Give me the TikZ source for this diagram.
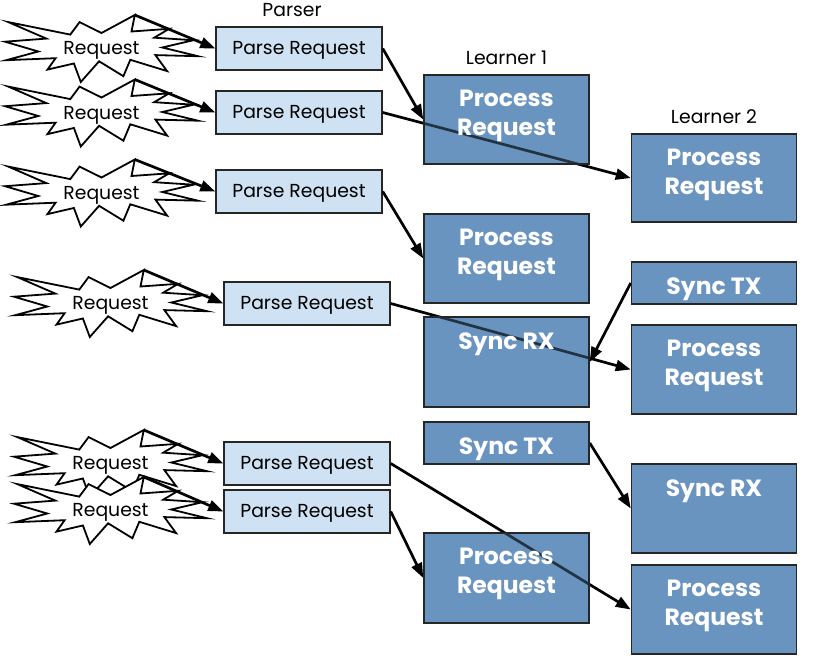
\documentclass[tikz,border=0pt]{standalone}
\usepackage{fontspec}
\setmainfont{Poppins}
\usetikzlibrary{arrows.meta}
\pgfdeclarelayer{background}
\pgfdeclarelayer{front}
\pgfsetlayers{background,main,front}
\definecolor{parsefill}{RGB}{207,226,243}
\definecolor{learnfill}{RGB}{106,148,192}

\tikzset{
  parsebox/.style={draw=black!85, line width=1.5pt, fill=parsefill, minimum width=166pt, minimum height=43pt, inner sep=0pt, text depth=1pt, font=\fontsize{18.8}{22}\selectfont},
  learnbox/.style={draw=black!85, line width=1.5pt, fill=learnfill, fill opacity=0.35, draw opacity=1, text opacity=1, minimum width=165pt, inner sep=0pt},
  boxtext/.style={anchor=north, yshift=-16pt, align=center, text=white, draw=none, fill=none, fill opacity=1, text opacity=1, inner sep=0pt, font=\fontsize{23.5}{29}\selectfont\bfseries},
  title/.style={font=\fontsize{18.8}{22}\selectfont, inner sep=0pt, text depth=0pt, label distance=10pt, fill=none, draw=none, fill opacity=1, text opacity=1},
  flow/.style={line width=2.7pt, -{Triangle[length=15pt,width=11pt]}},
  burst/.pic={
    \draw[line width=1.8pt, fill=white, line join=miter]
      (0,-15.5) -- (33.3,-33.5) -- (30.0,-17.0) -- (67.7,-19.7) -- (52.7,-10.8)
      -- (92.0,-8.3) -- (60.8,-1.0) -- (96.5,7.7) -- (53.9,6.6) -- (65.6,22.6)
      -- (28.8,11.3) -- (21.9,27.7) -- (-2.4,12.8) -- (-20.7,33.5) -- (-27.6,15.0)
      -- (-54.0,21.1) -- (-45.9,9.7) -- (-95.3,11.7) -- (-63.2,3.0) -- (-96.5,-6.8)
      -- (-55.2,-9.9) -- (-93.2,-26.4) -- (-31.2,-13.9) -- (-21.9,-26.4) -- cycle;
    \coordinate (-tip) at (33.3,-33.5);
    \node[font=\fontsize{18.8}{22}\selectfont, text depth=1pt] (-txt) at (0,0) {#1};
  }
}

\begin{document}
\begin{tikzpicture}[x=1pt,y=-1pt]
\useasboundingbox (0,0) rectangle (815,663);

% incoming requests
\pic (r1) at (101.5,48.5) {burst=Request};
\pic (r2) at (101.5,113) {burst=Request};
\pic (r3) at (101.5,193) {burst=Request};
\pic (r4) at (110.5,303.5) {burst=Request};
\pic (r5) at (110.5,463.5) {burst=Request};
\pic (r6) at (110.5,510.5) {burst=Request};

% parser
\node[parsebox, label={[title, xshift=-7pt]above:Parser}] (p1) at (299,48.5) {Parse Request};
\node[parsebox] (p2) at (299,112.5) {Parse Request};
\node[parsebox] (p3) at (299,191.5) {Parse Request};
\node[parsebox] (p4) at (307,303.5) {Parse Request};
\node[parsebox] (p5) at (307,463.5) {Parse Request};
\node[parsebox] (p6) at (307,511.5) {Parse Request};

\begin{pgfonlayer}{front}
% learner 1
\node[learnbox, minimum height=89pt, label={[title]above:Learner 1}, label={[boxtext]north:Process\\Request}] (a1) at (506.5,119.5) {};
\node[learnbox, minimum height=89pt, label={[boxtext]north:Process\\Request}] (a2) at (506.5,258.5) {};
\node[learnbox, minimum height=90pt, label={[boxtext]north:Sync RX}] (a3) at (506.5,362) {};
\node[learnbox, minimum height=42pt, label={[boxtext]north:Sync TX}] (a4) at (506.5,443) {};
\node[learnbox, minimum height=90pt, label={[boxtext]north:Process\\Request}] (a5) at (506.5,578) {};
% learner 2
\node[learnbox, minimum height=88pt, label={[title]above:Learner 2}, label={[boxtext]north:Process\\Request}] (b1) at (714,178) {};
\node[learnbox, minimum height=42pt, label={[boxtext]north:Sync TX}] (b2) at (714,283) {};
\node[learnbox, minimum height=89pt, label={[boxtext]north:Process\\Request}] (b3) at (714,369.5) {};
\node[learnbox, minimum height=89pt, label={[boxtext]north:Sync RX}] (b4) at (714,508.5) {};
\node[learnbox, minimum height=89pt, label={[boxtext]north:Process\\Request}] (b5) at (714,609.5) {};
\end{pgfonlayer}

\begin{pgfonlayer}{background}
\foreach \b in {a1,a2,a3,a4,a5,b1,b2,b3,b4,b5}
  \fill[learnfill] (\b.south west) rectangle (\b.north east);
\end{pgfonlayer}

\draw[flow] (r1-tip) -- (p1.west);
\draw[flow] (r2-tip) -- (p2.west);
\draw[flow] (r3-tip) -- (p3.west);
\draw[flow] (r4-tip) -- (p4.west);
\draw[flow] (r5-tip) -- (p5.west);
\draw[flow] (r6-tip) -- (p6.west);

\draw[flow] (p1.east) -- (a1.west);
\draw[flow] (p2.east) -- (b1.west);
\draw[flow] (p3.east) -- (a2.west);
\draw[flow] (p4.east) -- (b3.west);
\draw[flow] (b2.west) -- (a3.east);
\draw[flow] (a4.east) -- (b4.west);
\draw[flow] (p5.east) -- (b5.west);
\draw[flow] (p6.east) -- (a5.west);
\end{tikzpicture}
\end{document}
